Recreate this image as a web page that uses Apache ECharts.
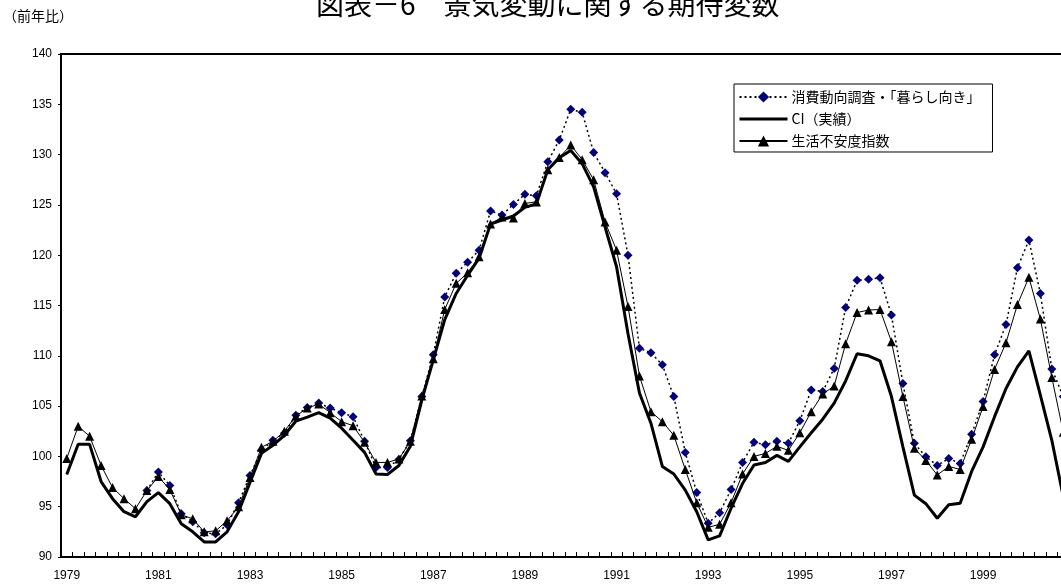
<!DOCTYPE html>
<html>
<head>
<meta charset="utf-8">
<script src="https://cdn.jsdelivr.net/npm/echarts@6/dist/echarts.min.js"></script>
<style>
html,body{margin:0;padding:0;background:#fff;}
#main{width:1061px;height:585px;}
</style>
</head>
<body>
<div id="main"></div>
<script>
// Quarterly categories 1979Q1 - 2000Q4
var categories = [
'1979Q1','1979Q2','1979Q3','1979Q4','1980Q1','1980Q2','1980Q3','1980Q4',
'1981Q1','1981Q2','1981Q3','1981Q4','1982Q1','1982Q2','1982Q3','1982Q4',
'1983Q1','1983Q2','1983Q3','1983Q4','1984Q1','1984Q2','1984Q3','1984Q4',
'1985Q1','1985Q2','1985Q3','1985Q4','1986Q1','1986Q2','1986Q3','1986Q4',
'1987Q1','1987Q2','1987Q3','1987Q4','1988Q1','1988Q2','1988Q3','1988Q4',
'1989Q1','1989Q2','1989Q3','1989Q4','1990Q1','1990Q2','1990Q3','1990Q4',
'1991Q1','1991Q2','1991Q3','1991Q4','1992Q1','1992Q2','1992Q3','1992Q4',
'1993Q1','1993Q2','1993Q3','1993Q4','1994Q1','1994Q2','1994Q3','1994Q4',
'1995Q1','1995Q2','1995Q3','1995Q4','1996Q1','1996Q2','1996Q3','1996Q4',
'1997Q1','1997Q2','1997Q3','1997Q4','1998Q1','1998Q2','1998Q3','1998Q4',
'1999Q1','1999Q2','1999Q3','1999Q4','2000Q1','2000Q2','2000Q3','2000Q4'
];

// 消費動向調査・「暮らし向き」 (no visible marks before 1981)
var surveyValues = [
null,null,null,null, null,null,null,96.6,
98.45,97.1,94.3,93.5, 92.4,92.3,93.2,95.4,
98.1,100.6,101.6,102.3, 104.1,104.85,105.3,104.8,
104.35,103.95,101.5,98.9, 98.9,99.7,101.55,105.95,
110.1,115.85,118.2,119.3, 120.5,124.4,124.0,125.05,
126.05,125.9,129.3,131.45, 134.5,134.2,130.2,128.2,
126.1,120.0,110.75,110.3, 109.1,105.95,100.4,96.4,
93.35,94.4,96.7,99.4, 101.4,101.15,101.5,101.3,
103.55,106.6,106.45,108.75, 114.8,117.5,117.6,117.75,
114.05,107.25,101.3,99.97, 99.1,99.8,99.3,102.2,
105.45,110.1,113.1,118.75, 121.5,116.2,108.7,105.95
];

// CI（実績）
var ciValues = [
98.2,101.2,101.2,97.5, 95.8,94.5,94.0,95.5,
96.4,95.3,93.3,92.5, 91.5,91.5,92.5,94.5,
97.4,100.3,101.1,102.1, 103.5,103.9,104.35,103.8,
102.8,101.6,100.4,98.25, 98.2,99.1,101.0,105.6,
109.6,113.6,116.2,118.0, 119.7,123.1,123.5,123.9,
124.75,125.1,128.5,129.7, 130.4,129.1,126.8,122.8,
118.85,112.2,106.3,103.3, 99.0,98.25,96.65,94.5,
91.7,92.1,94.85,97.3, 99.15,99.4,100.1,99.5,
100.95,102.35,103.7,105.3, 107.5,110.2,110.0,109.5,
105.95,100.95,96.15,95.3, 93.85,95.2,95.35,98.5,
100.95,103.95,106.75,108.9, 110.5,106.1,101.6,96.0
];

// 生活不安度指数
var anxietyValues = [
99.8,103.0,102.0,99.1, 96.9,95.8,94.8,96.6,
98.0,96.7,94.2,93.8, 92.5,92.6,93.6,95.0,
97.9,100.9,101.5,102.5, 104.0,104.8,105.2,104.35,
103.45,103.05,101.4,99.4, 99.4,99.75,101.5,106.0,
109.7,114.6,117.2,118.25, 119.85,123.1,123.8,123.7,
125.15,125.3,128.5,129.7, 130.95,129.5,127.5,123.3,
120.5,114.9,108.0,104.45, 103.45,102.1,98.7,95.4,
92.95,93.25,95.4,98.25, 100.0,100.3,101.0,100.6,
102.35,104.45,106.2,107.0, 111.2,114.3,114.55,114.6,
111.4,105.95,100.8,99.6, 98.15,99.0,98.7,101.7,
104.95,108.65,111.3,115.1, 117.8,113.65,107.85,102.4
];

var seriesNames = ['消費動向調査・「暮らし向き」', 'CI（実績）', '生活不安度指数'];
var titleText = '図表－6　景気変動に関する期待変数';
var unitText = '（前年比）';

var chart = echarts.init(document.getElementById('main'), null, {renderer: 'canvas'});
var jpFont = '"Noto Sans CJK JP", sans-serif';
var numFont = '"Liberation Sans", Arial, sans-serif';

chart.setOption({
  animation: false,
  backgroundColor: '#fff',
  title: [{
    text: titleText,
    left: 316,
    top: -10,
    padding: 0,
    textStyle: {fontFamily: jpFont, fontSize: 28, fontWeight: 'normal', color: '#000'}
  }, {
    text: unitText,
    left: 3,
    top: 9,
    padding: 0,
    textStyle: {fontFamily: jpFont, fontSize: 14, fontWeight: 'normal', color: '#000'}
  }],
  legend: {
    orient: 'vertical',
    left: 734,
    top: 84,
    padding: [6, 12, 4, 4],
    itemWidth: 48,
    itemHeight: 14,
    itemGap: 8,
    borderColor: '#000',
    borderWidth: 1,
    backgroundColor: '#fff',
    textStyle: {fontFamily: jpFont, fontSize: 14, color: '#000', padding: [0,0,0,-1]},
    data: [
      seriesNames[0],
      {name: seriesNames[1], itemStyle: {opacity: 0}, lineStyle: {width: 3, color: '#000'}},
      seriesNames[2]
    ]
  },
  grid: {
    left: 61,
    top: 54,
    width: 1008,
    bottom: 28,
    containLabel: false,
    outerBoundsMode: 'none',
    show: true,
    borderColor: '#000',
    borderWidth: 2
  },
  xAxis: {
    type: 'category',
    data: categories,
    boundaryGap: true,
    axisLine: {lineStyle: {color: '#000', width: 2}},
    axisTick: {show: true, interval: 0, inside: true, length: 5, lineStyle: {color: '#000', width: 1}},
    axisLabel: {
      interval: 7,
      margin: 13,
      fontFamily: numFont,
      fontSize: 12,
      color: '#000',
      formatter: function (v) { return v.slice(0, 4); }
    },
    splitLine: {show: false}
  },
  yAxis: {
    type: 'value',
    min: 90,
    max: 140,
    interval: 5,
    axisLine: {show: true, lineStyle: {color: '#000', width: 2}},
    axisTick: {show: true, length: 3, lineStyle: {color: '#000', width: 1}},
    axisLabel: {margin: 9, fontFamily: numFont, fontSize: 12, color: '#000'},
    splitLine: {show: false}
  },
  series: [{
    name: seriesNames[0],
    type: 'line',
    data: surveyValues,
    symbol: 'diamond',
    symbolSize: 9,
    showAllSymbol: true,
    itemStyle: {color: '#000080'},
    lineStyle: {color: '#000', width: 1.5, type: [2, 3]},
    z: 2
  }, {
    name: seriesNames[1],
    type: 'line',
    data: ciValues,
    symbol: 'none',
    itemStyle: {color: '#000'},
    lineStyle: {color: '#000', width: 3},
    z: 3
  }, {
    name: seriesNames[2],
    type: 'line',
    data: anxietyValues,
    symbol: 'triangle',
    symbolSize: 9,
    showAllSymbol: true,
    itemStyle: {color: '#000'},
    lineStyle: {color: '#000', width: 1},
    z: 4
  }]
});
</script>
</body>
</html>
